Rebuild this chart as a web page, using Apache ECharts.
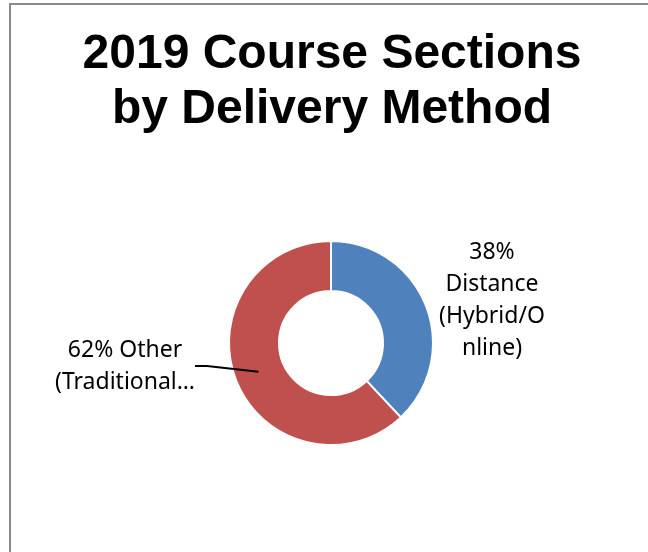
<!DOCTYPE html>
<html>
<head>
<meta charset="utf-8">
<style>
  html, body { margin: 0; padding: 0; background: #fff; overflow: hidden; }
  #frame { position: absolute; left: 9px; top: 3px; width: 700px; height: 620px; border: 2px solid #8a8a8a; }
  #main { position: absolute; left: 0; top: 0; width: 648px; height: 552px; }
</style>
<script src="https://cdn.jsdelivr.net/npm/echarts@6/dist/echarts.min.js"></script>
</head>
<body>
<div id="frame"></div>
<div id="main"></div>
<script>
// 数据
var categories = ['Distance (Hybrid/Online)', 'Other (Traditional)'];
var values = [38, 62];
var colors = ['#4f81bd', '#c0504d'];
// 标签文字（按原图换行）
var labelText = ['{d}%\nDistance\n(Hybrid/O\nnline)', '{d}% Other\n(Traditional…'];

(function () {
    // 可见的环形图
    var ringData = categories.map(function (name, i) {
        return { name: name, value: values[i], itemStyle: { color: colors[i] } };
    });
    // 透明的内层饼图，只用来放标签，引导线从环中间出发
    var labelData = categories.map(function (name, i) {
        return {
            name: name,
            value: values[i],
            label: { formatter: labelText[i] },
            labelLine: { show: i === 1 }
        };
    });

    var option = {
        animation: false,
        title: {
            text: '2019 Course Sections\nby Delivery Method',
            left: 332,
            textAlign: 'center',
            top: 27,
            padding: 0,
            textStyle: {
                fontFamily: 'Liberation Sans',
                fontWeight: 'bold',
                fontSize: 48,
                lineHeight: 55,
                color: '#000'
            }
        },
        series: [
            {
                type: 'pie',
                center: [331, 343],
                radius: [52, 102],
                startAngle: 90,
                clockwise: true,
                silent: true,
                label: { show: false },
                labelLine: { show: false },
                itemStyle: {
                    borderColor: '#fff',
                    borderWidth: 2
                },
                data: ringData
            },
            {
                type: 'pie',
                center: [331, 343],
                radius: [0, 78],
                startAngle: 90,
                clockwise: true,
                silent: true,
                z: 3,
                percentPrecision: 0,
                itemStyle: { color: 'rgba(0,0,0,0)' },
                label: {
                    show: true,
                    position: 'outside',
                    fontFamily: 'Noto Sans',
                    fontSize: 23,
                    lineHeight: 32,
                    color: '#000',
                    align: 'center'
                },
                labelLine: {
                    lineStyle: { color: '#000', width: 2 },
                    length: 10,
                    length2: 12
                },
                labelLayout: function (params) {
                    // 标签位置
                    if (params.dataIndex === 0) {
                        return { x: 492, y: 300, align: 'center', verticalAlign: 'middle' };
                    }
                    return { x: 125, y: 366, align: 'center', verticalAlign: 'middle' };
                },
                data: labelData
            }
        ]
    };

    var myChart = echarts.init(document.getElementById('main'));
    myChart.setOption(option);
})();
</script>
</body>
</html>
